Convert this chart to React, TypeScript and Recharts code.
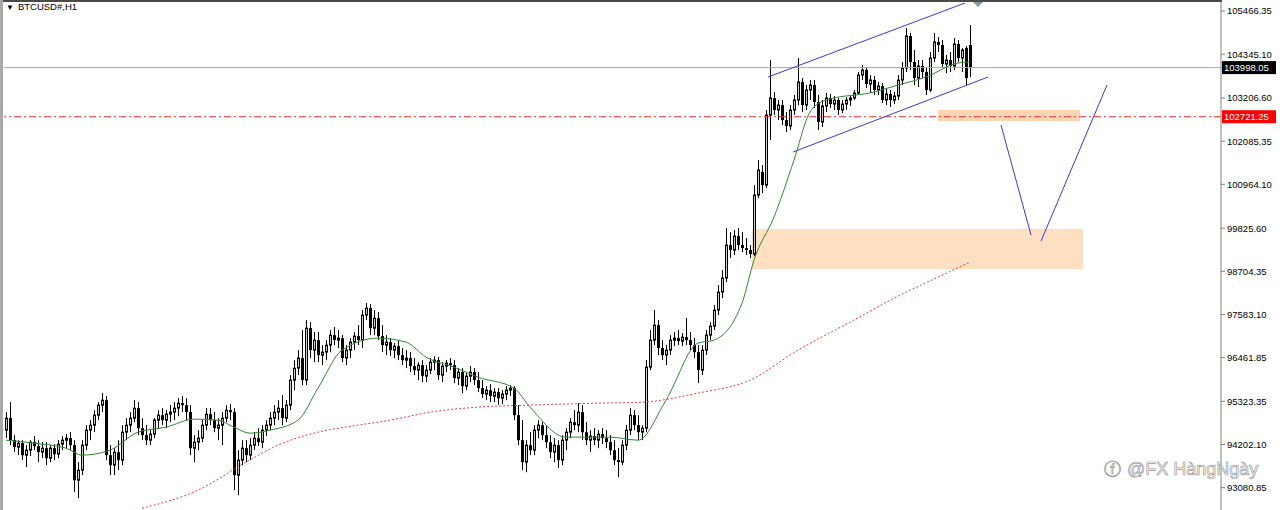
import React from "react";
import {
  ComposedChart,
  Bar,
  Line,
  XAxis,
  YAxis,
  ReferenceLine,
  ReferenceArea,
  ReferenceDot,
} from "recharts";

// H1 candles, [open, high, low, close]
const ohlc: [number, number, number, number][] = [
  [94575, 95043, 94367, 94887], [94887, 95303, 94185, 94315], [94315, 94445, 94003, 94133], [94133, 94315, 93925, 94237],
  [94237, 94315, 93795, 93925], [93925, 94185, 93613, 94055], [94055, 94315, 93899, 94263], [94263, 94419, 94055, 94159],
  [94159, 94315, 93743, 94003], [94003, 94263, 93847, 94107], [94107, 94263, 93665, 93847], [93847, 94185, 93743, 94107],
  [94107, 94211, 93795, 93951], [93951, 94315, 93847, 94211], [94211, 94419, 94055, 94315], [94315, 94471, 94107, 94367],
  [94367, 94523, 94055, 94185], [94185, 94315, 92963, 93275], [93275, 93743, 92807, 93535], [93535, 94315, 93405, 94185],
  [94185, 94705, 94055, 94575], [94575, 94835, 94315, 94705], [94705, 95095, 94523, 94965], [94965, 95303, 94835, 95225],
  [95225, 95537, 95043, 95355], [95355, 95459, 93795, 93925], [93925, 94185, 93405, 93665], [93665, 94107, 93405, 94003],
  [94003, 94315, 93535, 93795], [93795, 94705, 93665, 94523], [94523, 94887, 94315, 94705], [94705, 95043, 94523, 94887],
  [94887, 95355, 94783, 95147], [95147, 95303, 94445, 94627], [94627, 94887, 94315, 94445], [94445, 94705, 94185, 94315],
  [94315, 94575, 94185, 94471], [94471, 94887, 94367, 94835], [94835, 95095, 94627, 94965], [94965, 95147, 94705, 94835],
  [94835, 95095, 94627, 94991], [94991, 95225, 94783, 95043], [95043, 95303, 94835, 95147], [95147, 95407, 94939, 95277],
  [95277, 95459, 95043, 95225], [95225, 95407, 94835, 95043], [95043, 95225, 93925, 94107], [94107, 94445, 93743, 94263],
  [94263, 94575, 94055, 94367], [94367, 94835, 94263, 94705], [94705, 95147, 94575, 94991], [94991, 95147, 94705, 94835],
  [94835, 95043, 94523, 94627], [94627, 94887, 94315, 94705], [94705, 95043, 94185, 94887], [94887, 95225, 94783, 95095],
  [95095, 95251, 94835, 95043], [95043, 95147, 93015, 93405], [93405, 94055, 92885, 93795], [93795, 94315, 93665, 94107],
  [94107, 94315, 93743, 93925], [93925, 94367, 93795, 94185], [94185, 94523, 94055, 94367], [94367, 94627, 94159, 94263],
  [94263, 94705, 94107, 94575], [94575, 94835, 94419, 94705], [94705, 95043, 94575, 94887], [94887, 95225, 94705, 95043],
  [95043, 95355, 94835, 95147], [95147, 95485, 94705, 94887], [94887, 95355, 94783, 95225], [95225, 96005, 95095, 95875],
  [95875, 96395, 95615, 96187], [96187, 96655, 96005, 96447], [96447, 97175, 95745, 95875], [95875, 97435, 95745, 97227],
  [97227, 97383, 96447, 96655], [96655, 97123, 96343, 96915], [96915, 97123, 96343, 96525], [96525, 96785, 96265, 96603],
  [96603, 96915, 96395, 96785], [96785, 97175, 96603, 97045], [97045, 97253, 96785, 96915], [96915, 97175, 96707, 96967],
  [96967, 97045, 96343, 96447], [96447, 96785, 96265, 96655], [96655, 96967, 96447, 96863], [96863, 97123, 96655, 97019],
  [97019, 97305, 96785, 96915], [96915, 97695, 96707, 97565], [97565, 97877, 97435, 97747], [97747, 97851, 97045, 97227],
  [97227, 97695, 97045, 97487], [97487, 97643, 96915, 97019], [97019, 97305, 96603, 96785], [96785, 97045, 96525, 96863],
  [96863, 96967, 96499, 96655], [96655, 96837, 96447, 96759], [96759, 96915, 96395, 96525], [96525, 96707, 96265, 96395],
  [96395, 96655, 96187, 96447], [96447, 96603, 96083, 96239], [96239, 96447, 96005, 96135], [96135, 96343, 95875, 96265],
  [96265, 96395, 95823, 95979], [95979, 96265, 95823, 96135], [96135, 96447, 96031, 96343], [96343, 96499, 96135, 96395],
  [96395, 96473, 95875, 96005], [96005, 96343, 95823, 96239], [96239, 96395, 96083, 96317], [96317, 96447, 96135, 96265],
  [96265, 96395, 95797, 95927], [95927, 96187, 95745, 96083], [96083, 96187, 95537, 95719], [95719, 96083, 95615, 95979],
  [95979, 96239, 95823, 96083], [96083, 96187, 95745, 95875], [95875, 96083, 95563, 95667], [95667, 95875, 95407, 95511],
  [95511, 95719, 95355, 95615], [95615, 95771, 95303, 95459], [95459, 95667, 95303, 95563], [95563, 95667, 95225, 95407],
  [95407, 95615, 95251, 95511], [95511, 95719, 95355, 95615], [95615, 95745, 95459, 95667], [95667, 95719, 94835, 94965],
  [94965, 95225, 94185, 94315], [94315, 94835, 93535, 93743], [93743, 94315, 93483, 94185], [94185, 94523, 93925, 94055],
  [94055, 94705, 93925, 94575], [94575, 94835, 94367, 94705], [94705, 94783, 94315, 94445], [94445, 94705, 94107, 94263],
  [94263, 94445, 93847, 94003], [94003, 94367, 93743, 94185], [94185, 94315, 93587, 93795], [93795, 94445, 93665, 94315],
  [94315, 94627, 94055, 94523], [94523, 94887, 94367, 94783], [94783, 95095, 94575, 94705], [94705, 95277, 94523, 95043],
  [95043, 95225, 94315, 94523], [94523, 94783, 94185, 94315], [94315, 94575, 94003, 94419], [94419, 94627, 94185, 94315],
  [94315, 94575, 94107, 94471], [94471, 94627, 94211, 94367], [94367, 94575, 94107, 94263], [94263, 94445, 93925, 94055],
  [94055, 94315, 93665, 93795], [93795, 94107, 93353, 93743], [93743, 94315, 93665, 94185], [94185, 94705, 94055, 94575],
  [94575, 95147, 94445, 94965], [94965, 95095, 94575, 94705], [94705, 94965, 94315, 94523], [94523, 94705, 94315, 94627],
  [94627, 96395, 94523, 96213], [96213, 97175, 96135, 96915], [96915, 97695, 96785, 97305], [97305, 97435, 96525, 96707],
  [96707, 96915, 96395, 96525], [96525, 96785, 96265, 96655], [96655, 97045, 96525, 96915], [96915, 97123, 96759, 96967],
  [96967, 97175, 96785, 96889], [96889, 97097, 96759, 96993], [96993, 97487, 96785, 96915], [96915, 97123, 96655, 96785],
  [96785, 96967, 96447, 96603], [96603, 96785, 95797, 96135], [96135, 96785, 96005, 96655], [96655, 97175, 96525, 97045],
  [97045, 97383, 96915, 97279], [97279, 97825, 97175, 97695], [97695, 98345, 97565, 98163], [98163, 98735, 98007, 98527],
  [98527, 99827, 98423, 99385], [99385, 99723, 99047, 99255], [99255, 99775, 99125, 99619], [99619, 99827, 99255, 99385],
  [99385, 99723, 99203, 99307], [99307, 99567, 99125, 99255], [99255, 99385, 99047, 99151], [99151, 100945, 99099, 100685],
  [100685, 101595, 100607, 101335], [101283, 101465, 100737, 100945], [100945, 102895, 100867, 102765], [102765, 104195, 102115, 103207],
  [103207, 103363, 102765, 102895], [102895, 103155, 102635, 103025], [103025, 103155, 102505, 102635], [102635, 102843, 102323, 102479],
  [102479, 103025, 102375, 102895], [102895, 103285, 102765, 103155], [103155, 104247, 103025, 103623], [103623, 103727, 102843, 103025],
  [103025, 103545, 102895, 103415], [103415, 103675, 103155, 103545], [103545, 103675, 102947, 103103], [103103, 103285, 102375, 102583],
  [102583, 103155, 102453, 102999], [102999, 103337, 102843, 103207], [103207, 103311, 102947, 103051], [103051, 103259, 102895, 103155],
  [103155, 103207, 102765, 102895], [102895, 103155, 102817, 103051], [103051, 103233, 102895, 103155], [103155, 103285, 102999, 103207],
  [103207, 103415, 103155, 103337], [103337, 103883, 103285, 103805], [103805, 104065, 103675, 103935], [103935, 103987, 103467, 103571],
  [103571, 103805, 103337, 103675], [103675, 103779, 103285, 103415], [103415, 103623, 103285, 103519], [103519, 103597, 103077, 103155],
  [103155, 103467, 103025, 103311], [103311, 103415, 102973, 103155], [103155, 103363, 103051, 103259], [103259, 103805, 103155, 103675],
  [103675, 104143, 103545, 103987], [103987, 105027, 103883, 104819], [104819, 104897, 103935, 104143], [104143, 104455, 103545, 103727],
  [103727, 104195, 103493, 104039], [104039, 104195, 103727, 103883], [103883, 103987, 103285, 103415], [103415, 104403, 103363, 104247],
  [104247, 104897, 104143, 104663], [104663, 104793, 104403, 104585], [104585, 104715, 103987, 104091], [104091, 104325, 103857, 104195],
  [104195, 104403, 103883, 104039], [104039, 104767, 103935, 104611], [104611, 104715, 104143, 104247], [104247, 104507, 103883, 104455],
  [104507, 104559, 103545, 103727], [104585, 105105, 103753, 103998],
];

// moving averages, [bar index, price]
const maFast: [number, number][] = [
  [0, 94315], [7, 94237], [15, 94107], [19, 93925], [26, 94055], [33, 94523], [40, 94653],
  [47, 94861], [53, 94835], [57, 94653], [61, 94497], [66, 94575], [73, 94835], [78, 95667],
  [84, 96655], [93, 96967], [100, 96863], [105, 96473], [112, 96213], [118, 95953], [127, 95667],
  [131, 95173], [140, 94393], [151, 94393], [158, 94315], [165, 95355], [173, 96837], [177, 96915],
  [184, 97877], [187, 98995], [192, 100113], [197, 101595], [201, 102843], [205, 103155],
  [217, 103363], [223, 103545], [230, 103753], [238, 104117], [241, 104143],
];
const maSlow: [number, number][] = [
  [34, 92547], [48, 93015], [60, 93743], [68, 94185], [78, 94523], [88, 94705], [96, 94835],
  [106, 95043], [118, 95173], [131, 95225], [148, 95277], [159, 95303], [173, 95537],
  [186, 95875], [198, 96655], [211, 97383], [223, 98059], [233, 98553], [241, 98943],
];

const yTicks = [
  105466.35, 104345.1, 103206.6, 102085.35, 100964.1, 99825.6, 98704.35, 97583.1,
  96461.85, 95323.35, 94202.1, 93080.85,
];
const bidPrice = 103998.05;
const alertPrice = 102721.25;

// drawn objects: [bar index, price]
const channelTop: [number, number][] = [[190.5, 103753], [239.75, 105677]];
const channelBottom: [number, number][] = [[196.75, 101803], [245.5, 103753]];
const pathDown: [number, number][] = [[248.75, 102505], [256.25, 99645]];
const pathUp: [number, number][] = [[258.75, 99489], [275.25, 103545]];
const smallZone = { x1: 233, x2: 268.5, y1: 102609, y2: 102895 };
const bigZone = { x1: 186.5, x2: 269.25, y1: 98761, y2: 99801 };

const candles = ohlc.map(([o, h, l, c], i) => ({ i, o, h, l, c, range: [l, h] }));
const fastData = maFast.map(([i, v]) => ({ i, v }));
const slowData = maSlow.map(([i, v]) => ({ i, v }));

const FONT = "'Liberation Sans', Arial, sans-serif";

function Candle(props: any) {
  const { x, y, width, height, payload } = props;
  if (!payload) return null;
  const { o, h, l, c } = payload;
  const top = Math.min(y, y + height);
  const bot = Math.max(y, y + height);
  const k = h === l ? 0 : (bot - top) / (h - l);
  const yo = top + (h - o) * k;
  const yc = top + (h - c) * k;
  const cx = Math.round(x + width / 2);
  const bt = Math.min(yo, yc);
  const bh = Math.max(1, Math.abs(yc - yo));
  return (
    <g>
      <line x1={cx + 0.5} x2={cx + 0.5} y1={top} y2={bot} stroke="#000" strokeWidth={1} />
      {c >= o ? (
        <rect x={cx - 0.5} y={bt} width={2} height={bh} fill="#cccccc" stroke="#000" strokeWidth={1} />
      ) : (
        <rect x={cx - 1} y={bt} width={3} height={bh} fill="#000" />
      )}
    </g>
  );
}

function PriceTag(props: any) {
  const { viewBox, bg, text } = props;
  if (!viewBox) return null;
  const right = viewBox.x + viewBox.width;
  return (
    <g>
      <rect x={right + 1} y={viewBox.y - 6.5} width={54} height={13} fill={bg} />
      <text x={right + 3} y={viewBox.y + 3.5} fill="#fff" fontSize={9.5} fontFamily={FONT}>
        {text}
      </text>
    </g>
  );
}

function Marker(props: any) {
  const { cx } = props;
  return <polygon points={`${cx - 6},1 ${cx},7 ${cx + 6},1 ${cx},-5`} fill="#8b959f" />;
}

export default function App() {
  return (
    <div style={{ position: "absolute", left: 0, top: 0, width: 1280, height: 510, background: "#fff" }}>
      <ComposedChart
        width={1280}
        height={510}
        data={candles}
        margin={{ top: 0, right: 0, bottom: 0, left: 4 }}
      >
        <XAxis dataKey="i" type="number" domain={[-0.5, 303.75]} allowDataOverflow hide />
        <YAxis
          orientation="right"
          width={59}
          domain={[92500, 105755]}
          allowDataOverflow
          ticks={yTicks}
          interval={0}
          tickSize={4}
          tickFormatter={(v: number) => v.toFixed(2)}
          tick={{ fontSize: 9.5, fill: "#000", fontFamily: FONT }}
          axisLine={{ stroke: "#808080" }}
          tickLine={{ stroke: "#808080" }}
        />
        <ReferenceArea {...bigZone} fill="#fde0c2" fillOpacity={1} stroke="none" />
        <ReferenceArea {...smallZone} fill="#fbd6b0" fillOpacity={1} stroke="none" />
        <ReferenceLine
          y={bidPrice}
          stroke="#a8a8a8"
          label={<PriceTag bg="#000" text={bidPrice.toFixed(2)} />}
        />
        <ReferenceLine
          y={alertPrice}
          stroke="#f03030"
          strokeDasharray="7 3 2 3"
          label={<PriceTag bg="#ff0000" text={alertPrice.toFixed(2)} />}
        />
        <Bar dataKey="range" barSize={3} shape={Candle} isAnimationActive={false} />
        <Line
          data={slowData}
          dataKey="v"
          type="monotone"
          stroke="#f04040"
          strokeWidth={1}
          strokeDasharray="2 2"
          dot={false}
          isAnimationActive={false}
        />
        <Line
          data={fastData}
          dataKey="v"
          type="monotone"
          stroke="#2f8a2f"
          strokeWidth={1}
          dot={false}
          isAnimationActive={false}
        />
        {[channelTop, channelBottom, pathDown, pathUp].map((seg, k) => (
          <ReferenceLine
            key={k}
            segment={seg.map(([x, y]) => ({ x, y }))}
            stroke="#3a3ad8"
            strokeWidth={1}
            ifOverflow="visible"
          />
        ))}
        <ReferenceDot x={243} y={105755} ifOverflow="visible" shape={Marker} />
      </ComposedChart>

      <div style={{ position: "absolute", left: 0, top: 0, width: 1222, height: 2, background: "#4a4a4a" }} />
      <div style={{ position: "absolute", left: 0, top: 0, width: 3, height: 510, background: "#a8a8a8" }} />
      <div
        style={{
          position: "absolute",
          left: 6,
          top: 1,
          fontFamily: FONT,
          fontSize: 9.5,
          color: "#000",
          whiteSpace: "nowrap",
        }}
      >
        <span style={{ fontSize: 8, marginRight: 4 }}>▼</span>BTCUSD#,H1
      </div>
      <div
        style={{
          position: "absolute",
          left: 1104,
          top: 458,
          fontFamily: FONT,
          fontSize: 18,
          color: "#ffffff",
          WebkitTextStroke: "0.7px #9c9c9c",
          whiteSpace: "nowrap",
        }}
      >
        <span style={{ fontFamily: "'DejaVu Sans'", fontSize: 17, marginRight: 6 }}>ⓕ</span>@FX HàngNgày
      </div>
    </div>
  );
}
